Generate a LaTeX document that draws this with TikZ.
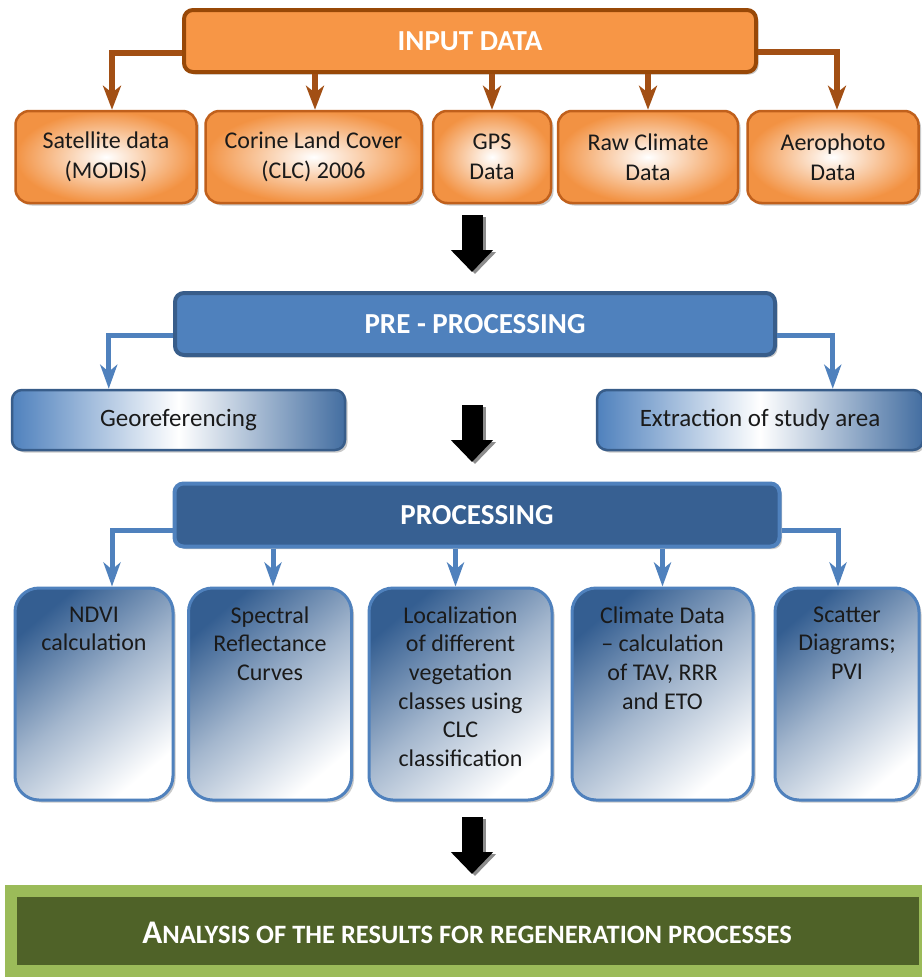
\documentclass[tikz,border=0pt]{standalone}
\usepackage{fontspec}
\setmainfont{Carlito}
\usetikzlibrary{arrows.meta,shadows,calc}
\definecolor{orF}{HTML}{F79646}
\definecolor{orD}{HTML}{984807}
\definecolor{orB}{HTML}{C0601C}
\definecolor{orC}{HTML}{A24F14}
\definecolor{blA}{HTML}{4F81BD}
\definecolor{blD}{HTML}{376092}
\definecolor{blE}{HTML}{385D8A}
\definecolor{blP}{HTML}{345E91}
\definecolor{grL}{HTML}{9BBB59}
\definecolor{grD}{HTML}{4F6228}
\definecolor{txD}{HTML}{1A1A1A}
\tikzset{
  shad/.style={drop shadow={shadow xshift=2.5pt,shadow yshift=-2.5pt,opacity=0.35,fill=black!60}},
  hdr/.style={rounded corners=9pt, line width=4pt, text=white, inner sep=0pt,
    font=\fontsize{29}{32}\selectfont\bfseries, shad},
  inhdr/.style={hdr, draw=orD, fill=orF},
  prehdr/.style={hdr, draw=blE, fill=blA},
  prochdr/.style={hdr, draw=blA, fill=blD},
  obox/.style={rounded corners=14pt, draw=orB, line width=2.5pt, inner color=white, outer color=orF!95!orD,
    align=center, text=txD, font=\fontsize{24}{30}\selectfont, inner sep=0pt, minimum height=92pt, shad},
  gbox/.style={rounded corners=10pt, draw=blE, line width=2.5pt, left color=blA, right color=blA!85!black, middle color=white,
    align=center, text=txD, font=\fontsize{25}{28}\selectfont, inner sep=0pt, minimum height=60pt, shad},
  pbox/.style={rounded corners=24pt, draw=blA, line width=3pt, top color=blP, bottom color=white, middle color=blP!45!white, shading angle=40,
    inner sep=0pt, minimum height=212pt, shad},
  ptxt/.style={align=center, text=txD, font=\fontsize{24}{28.6}\selectfont, inner sep=0pt, anchor=north},
  bconn/.style={draw=orC, line width=5.5pt, -{Stealth[length=24pt,width=18pt,inset=7pt]}},
  uconn/.style={draw=blA, line width=5pt, -{Stealth[length=24pt,width=17pt,inset=7pt]}},
  bigarrow/.style={draw=black, line width=21pt, -{Triangle[width=41pt,length=22pt]}},
  bigshadow/.style={draw=black!45, line width=21pt, -{Triangle[width=41pt,length=22pt]}},
}
\begin{document}
\begin{tikzpicture}[x=1pt,y=-1pt]
\useasboundingbox[fill=white] (0,0) rectangle (921,977);

% ---------- INPUT DATA ----------
\node[inhdr, minimum width=572pt, minimum height=62pt] (in) at (470,41) {INPUT DATA};
\node[obox, minimum width=181pt] (b1) at (106,157) {Satellite data\\(MODIS)};
\node[obox, minimum width=216pt] (b2) at (313.5,157) {Corine Land Cover\\(CLC) 2006};
\node[obox, minimum width=118pt] (b3) at (492,157) {GPS\\Data};
\node[obox, minimum width=180pt] (b4) at (648,157) {Raw Climate\\Data};
\node[obox, minimum width=171pt] (b5) at (833,157) {Aerophoto\\Data};

\draw[bconn] ([yshift=-12pt]in.west) -| ([xshift=6pt]b1.north);
\draw[bconn] ([xshift=1.5pt]b2.north |- in.south) -- ([xshift=1.5pt]b2.north);
\draw[bconn] (b3.north |- in.south) -- (b3.north);
\draw[bconn] (b4.north |- in.south) -- (b4.north);
\draw[bconn] ([yshift=-11pt]in.east) -| ([xshift=4pt]b5.north);

% ---------- big arrow 1 ----------
\coordinate (a1s) at (472,215);
\coordinate (a1e) at (472,272);
\draw[bigshadow] ([xshift=3pt,yshift=-2pt]a1s) -- ([xshift=3pt,yshift=-2pt]a1e);
\draw[bigarrow] (a1s) -- (a1e);

% ---------- PRE - PROCESSING ----------
\node[prehdr, minimum width=600pt, minimum height=62pt] (pre) at (475,324) {PRE - PROCESSING};
\node[gbox, minimum width=333pt] (geo) at (178.5,420) {Georeferencing};
\node[gbox, minimum width=326pt] (ext) at (760,420) {Extraction of study area};

\draw[uconn] ([yshift=-11pt]pre.west) -| ([xshift=98pt]geo.north west);
\draw[uconn] ([yshift=-11pt]pre.east) -| ([xshift=237pt]ext.north west);

% ---------- big arrow 2 ----------
\coordinate (a2s) at (472,405);
\coordinate (a2e) at (472,462);
\draw[bigshadow] ([xshift=3pt,yshift=-2pt]a2s) -- ([xshift=3pt,yshift=-2pt]a2e);
\draw[bigarrow] (a2s) -- (a2e);

% ---------- PROCESSING ----------
\node[prochdr, minimum width=605pt, minimum height=63pt] (proc) at (477,515) {PROCESSING};
\node[pbox, minimum width=158pt] (p1) at (94,694) {};
\node[pbox, minimum width=163pt] (p2) at (270,694) {};
\node[pbox, minimum width=183pt] (p3) at (460.5,694) {};
\node[pbox, minimum width=181pt] (p4) at (662.5,694) {};
\node[pbox, minimum width=144pt] (p5) at (847,694) {};

\node[ptxt] (t1) at ([yshift=-20pt]p1.north) {NDVI\\calculation};
\node[ptxt] (t2) at ([yshift=-20pt]p2.north) {Spectral\\Reflectance\\Curves};
\node[ptxt] (t3) at ([yshift=-20pt]p3.north) {Localization\\of different\\vegetation\\classes using\\CLC\\classification};
\node[ptxt] (t4) at ([yshift=-20pt]p4.north) {Climate Data\\– calculation\\of TAV, RRR\\and ETO};
\node[ptxt] (t5) at ([yshift=-20pt]p5.north) {Scatter\\Diagrams;\\PVI};

\draw[uconn] ([yshift=-15pt]proc.west) -| ([xshift=18pt]p1.north);
\draw[uconn] ([xshift=3pt]p2.north |- proc.south) -- ([xshift=3pt]p2.north);
\draw[uconn] ([xshift=-5pt]p3.north |- proc.south) -- ([xshift=-5pt]p3.north);
\draw[uconn] (p4.north |- proc.south) -- (p4.north);
\draw[uconn] ([yshift=-15pt]proc.east) -| ([xshift=-9pt]p5.north);

% ---------- big arrow 3 ----------
\coordinate (a3s) at (472,817);
\coordinate (a3e) at (472,874);
\draw[bigshadow] ([xshift=3pt,yshift=-2pt]a3s) -- ([xshift=3pt,yshift=-2pt]a3e);
\draw[bigarrow] (a3s) -- (a3e);

% ---------- ANALYSIS ----------
\node[draw=grL, fill=grD, line width=12pt, minimum width=914pt, minimum height=80pt, inner sep=0pt, outer sep=0pt] (res) at (468,931) {};
\node[text=white, inner sep=0pt, font=\bfseries] (restxt) at (467,933)
  {\fontsize{33}{36}\selectfont A\fontsize{26.5}{36}\selectfont NALYSIS OF THE RESULTS FOR REGENERATION PROCESSES};
\end{tikzpicture}
\end{document}
